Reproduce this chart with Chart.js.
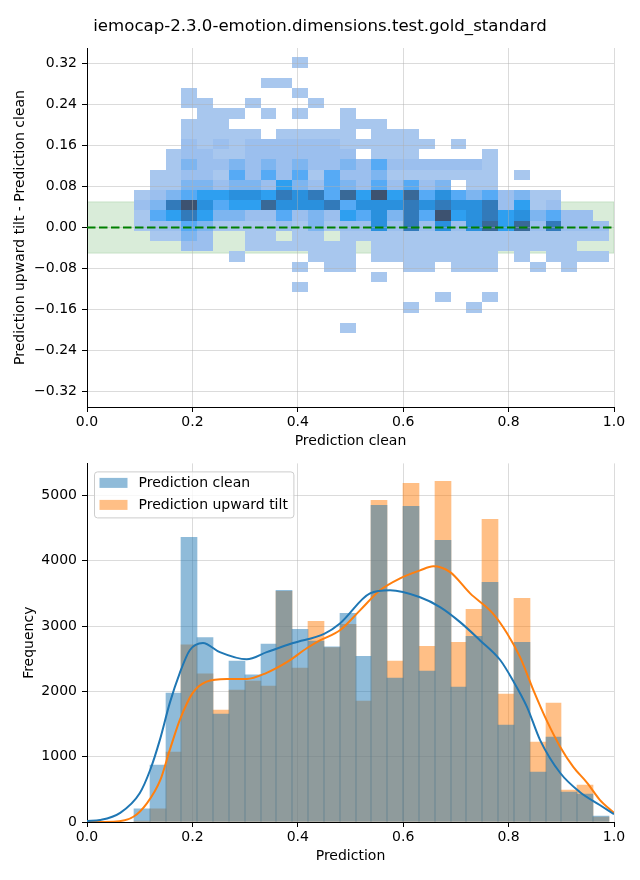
<!DOCTYPE html>
<html>
<head>
<meta charset="utf-8">
<script src="https://cdn.jsdelivr.net/npm/chart.js@4.4.1/dist/chart.umd.min.js"></script>
<style>
	html, body { margin: 0; padding: 0; background: #fff; }
	#pagina { position: relative; width: 640px; height: 880px; }
	canvas { position: absolute; left: 0; }
	#graficaDif { top: 0; }
	#graficaHist { top: 450px; }
</style>
</head>
<body>
<div id="pagina">
	<canvas id="graficaDif" width="640" height="450"></canvas>
	<canvas id="graficaHist" width="640" height="430"></canvas>
</div>
<script>
/* Datos: histograma 2D de diferencias y histogramas de prediccion */

var titulo = 'iemocap-2.3.0-emotion.dimensions.test.gold_standard';

// Bordes de los bins de prediccion (comunes a los dos paneles)
var binEdges = [0.0890, 0.1190, 0.1491, 0.1791, 0.2092, 0.2392, 0.2693, 0.2993, 0.3294, 0.3594,
	0.3895, 0.4195, 0.4496, 0.4796, 0.5097, 0.5397, 0.5698, 0.5998, 0.6299, 0.6599,
	0.6900, 0.7200, 0.7501, 0.7801, 0.8102, 0.8402, 0.8703, 0.9003, 0.9304, 0.9604, 0.9905];

// Bordes de los bins de diferencia (de arriba a abajo)
var diffEdges = [0.3317, 0.3118, 0.2919, 0.2720, 0.2521, 0.2322, 0.2123, 0.1924, 0.1725, 0.1526,
	0.1327, 0.1128, 0.0929, 0.0730, 0.0531, 0.0332, 0.0133, -0.0066, -0.0265, -0.0464,
	-0.0663, -0.0862, -0.1061, -0.1260, -0.1459, -0.1658, -0.1857, -0.2056];

// Conteos del histograma 2D: una fila por bin de diferencia, una columna por bin de prediccion
var cellCounts = [
	[0,0,0,0,0,0,0,0,0,0,15,0,0,0,0,0,0,0,0,0,0,0,0,0,0,0,0,0,0,0],
	[0,0,0,0,0,0,0,0,0,0,0,0,0,0,0,0,0,0,0,0,0,0,0,0,0,0,0,0,0,0],
	[0,0,0,0,0,0,0,0,15,15,0,0,0,0,0,0,0,0,0,0,0,0,0,0,0,0,0,0,0,0],
	[0,0,0,15,0,0,0,0,0,0,15,0,0,0,0,0,0,0,0,0,0,0,0,0,0,0,0,0,0,0],
	[0,0,0,15,15,0,0,15,0,0,0,15,0,0,0,0,0,0,0,0,0,0,0,0,0,0,0,0,0,0],
	[0,0,0,0,15,15,15,0,15,0,15,0,0,15,0,0,0,0,0,0,0,0,0,0,0,0,0,0,0,0],
	[0,0,0,15,15,15,0,0,0,0,0,0,0,15,15,15,0,0,0,0,0,0,0,0,0,0,0,0,0,0],
	[0,0,0,15,15,15,15,15,0,15,15,15,15,15,0,15,15,15,0,0,0,0,0,0,0,0,0,0,0,0],
	[0,0,0,110,15,110,15,110,110,110,110,110,110,15,15,15,15,15,15,0,15,0,0,0,0,0,0,0,0,0],
	[0,0,15,110,110,15,15,110,110,110,110,110,110,110,0,15,15,15,0,0,0,0,15,0,0,0,0,0,0,0],
	[0,0,15,230,110,110,230,110,230,110,230,110,110,230,110,350,110,110,110,110,110,110,15,0,0,0,0,0,0,0],
	[0,15,15,110,110,15,350,110,350,110,350,15,350,110,110,230,15,15,15,15,15,15,15,0,15,0,0,0,0,0],
	[0,15,15,230,230,110,230,230,110,480,230,110,350,230,110,350,110,350,110,230,0,15,15,0,0,0,0,0,0,0],
	[15,110,230,350,480,480,620,620,480,760,620,760,350,900,480,1040,480,900,350,620,350,230,350,110,230,15,15,0,0,0],
	[110,230,760,1040,620,350,480,480,900,620,620,620,760,350,620,620,620,760,620,760,620,620,760,110,480,15,110,0,0,0],
	[15,350,480,760,480,230,230,110,110,350,110,230,110,480,350,620,230,760,350,1040,480,620,760,480,620,230,350,110,110,0],
	[15,110,110,350,230,15,15,15,15,110,15,230,15,110,110,620,110,760,110,620,110,620,900,480,900,110,760,110,110,110],
	[0,15,15,230,110,0,0,15,15,0,15,15,0,15,15,15,15,15,15,15,15,15,15,15,15,15,15,15,15,15],
	[0,0,0,110,110,0,0,15,15,15,15,15,15,15,0,15,15,15,15,15,15,15,15,15,15,15,15,15,0,0],
	[0,0,0,0,0,0,15,0,0,0,0,15,15,15,0,15,15,15,15,15,15,15,15,0,15,0,15,15,15,15],
	[0,0,0,0,0,0,0,0,0,0,15,0,15,15,0,0,0,15,15,0,15,15,15,0,0,15,0,15,0,0],
	[0,0,0,0,0,0,0,0,0,0,0,0,0,0,0,15,0,0,0,0,0,0,0,0,0,0,0,0,0,0],
	[0,0,0,0,0,0,0,0,0,0,15,0,0,0,0,0,0,0,0,0,0,0,0,0,0,0,0,0,0,0],
	[0,0,0,0,0,0,0,0,0,0,0,0,0,0,0,0,0,0,0,15,0,0,15,0,0,0,0,0,0,0],
	[0,0,0,0,0,0,0,0,0,0,0,0,0,0,0,0,0,15,0,0,0,15,0,0,0,0,0,0,0,0],
	[0,0,0,0,0,0,0,0,0,0,0,0,0,0,0,0,0,0,0,0,0,0,0,0,0,0,0,0,0,0],
	[0,0,0,0,0,0,0,0,0,0,0,0,0,15,0,0,0,0,0,0,0,0,0,0,0,0,0,0,0,0]
];

// Histogramas de frecuencia por bin
var cleanCounts = [200, 870, 1975, 4358, 2824, 1651, 2462, 2253, 2722, 3547,
	2951, 2768, 2680, 3196, 2538, 4847, 2202, 4832, 2309, 4312,
	2064, 2844, 3670, 1483, 2752, 765, 1300, 459, 428, 90];
var tiltCounts = [15, 200, 1070, 2711, 2268, 1713, 2018, 2156, 2080, 3532,
	2358, 3073, 2670, 3028, 1850, 4924, 2462, 5184, 2691, 5214,
	2752, 3257, 4633, 1957, 3425, 1223, 1820, 489, 566, 75];

// Curvas KDE
var kdeCleanX = [0, 0.025, 0.063, 0.1, 0.12, 0.138, 0.157, 0.176, 0.195, 0.22, 0.252, 0.303, 0.341, 0.391,
	0.45, 0.48, 0.537, 0.575, 0.632, 0.67, 0.708, 0.746, 0.784, 0.808, 0.835, 0.86, 0.898, 0.935, 0.973, 1.0];
var kdeCleanY = [15, 30, 140, 440, 800, 1250, 1820, 2280, 2630, 2740, 2600, 2490, 2600, 2740,
	2880, 3040, 3500, 3547, 3440, 3290, 3060, 2780, 2480, 2170, 1760, 1250, 750, 460, 260, 120];
var kdeTiltX = [0, 0.05, 0.088, 0.114, 0.139, 0.157, 0.176, 0.2, 0.227, 0.265, 0.303, 0.34, 0.38, 0.417, 0.442,
	0.48, 0.518, 0.556, 0.594, 0.632, 0.657, 0.689, 0.727, 0.77, 0.797, 0.822, 0.847, 0.872, 0.898, 0.923, 0.949, 0.973, 1.0];
var kdeTiltY = [0, 5, 80, 290, 640, 1100, 1560, 1970, 2150, 2190, 2190, 2280, 2450, 2660, 2780,
	2935, 3240, 3547, 3730, 3853, 3914, 3825, 3500, 3195, 2890, 2520, 2020, 1560, 1150, 840, 600, 340, 140];

var xTicks = [0, 0.2, 0.4, 0.6, 0.8, 1.0];
var diffTicks = [-0.32, -0.24, -0.16, -0.08, 0, 0.08, 0.16, 0.24, 0.32];
var freqTicks = [0, 1000, 2000, 3000, 4000, 5000];
var bandaLimite = 0.05;

// Paradas del mapa de color (claro -> azul -> oscuro)
var paradasColor = [
	[0.00, [170, 200, 238]],
	[0.10, [156, 192, 238]],
	[0.22, [125, 181, 240]],
	[0.34, [85, 170, 245]],
	[0.46, [46, 159, 240]],
	[0.60, [42, 144, 220]],
	[0.73, [50, 122, 186]],
	[0.87, [57, 104, 150]],
	[1.00, [61, 82, 112]]
];

Chart.defaults.font.family = '"DejaVu Sans", sans-serif';
Chart.defaults.color = '#000';

var colorRejilla = 'rgba(176,176,176,0.45)';

function colorCelda(t) {
	for (var i = 1; i < paradasColor.length; i++) {
		if (t <= paradasColor[i][0]) {
			var a = paradasColor[i - 1], b = paradasColor[i];
			var f = (t - a[0]) / (b[0] - a[0]);
			var c = [0, 1, 2].map(function (k) { return Math.round(a[1][k] + f * (b[1][k] - a[1][k])); });
			return 'rgb(' + c[0] + ',' + c[1] + ',' + c[2] + ')';
		}
	}
	var u = paradasColor[paradasColor.length - 1][1];
	return 'rgb(' + u[0] + ',' + u[1] + ',' + u[2] + ')';
}

function formatoMenos(v, dec) {
	return (v < 0 ? '\u2212' : '') + Math.abs(v).toFixed(dec);
}

// Banda verde y celdas del histograma 2D, pintadas antes de la rejilla
var pluginCeldas = {
	id: 'celdas',
	beforeDraw: function (chart) {
		var ctx = chart.ctx;
		var xs = chart.scales.x, ys = chart.scales.y, area = chart.chartArea;
		ctx.save();
		ctx.beginPath();
		ctx.rect(area.left, area.top, area.right - area.left, area.bottom - area.top);
		ctx.clip();

		var xb0 = xs.getPixelForValue(0), xb1 = xs.getPixelForValue(1);
		var yb0 = ys.getPixelForValue(bandaLimite), yb1 = ys.getPixelForValue(-bandaLimite);
		ctx.fillStyle = 'rgba(0,128,0,0.15)';
		ctx.fillRect(xb0, yb0, xb1 - xb0, yb1 - yb0);
		ctx.strokeStyle = 'rgba(0,128,0,0.15)';
		ctx.lineWidth = 1;
		ctx.strokeRect(xb0, yb0, xb1 - xb0, yb1 - yb0);

		var maximo = 0;
		cellCounts.forEach(function (fila) { fila.forEach(function (v) { if (v > maximo) maximo = v; }); });

		for (var r = 0; r < cellCounts.length; r++) {
			for (var c = 0; c < cellCounts[r].length; c++) {
				var n = cellCounts[r][c];
				if (n <= 0) continue;
				var x0 = Math.round(xs.getPixelForValue(binEdges[c]));
				var x1 = Math.round(xs.getPixelForValue(binEdges[c + 1]));
				var y0 = Math.round(ys.getPixelForValue(diffEdges[r]));
				var y1 = Math.round(ys.getPixelForValue(diffEdges[r + 1]));
				ctx.fillStyle = colorCelda(n / maximo);
				ctx.fillRect(x0, y0, x1 - x0, y1 - y0);
			}
		}
		ctx.restore();
	}
};

var pluginTitulo = {
	id: 'titulo',
	afterDraw: function (chart) {
		var ctx = chart.ctx;
		ctx.save();
		ctx.font = '16.6px "DejaVu Sans"';
		ctx.fillStyle = '#000';
		ctx.textAlign = 'center';
		ctx.textBaseline = 'middle';
		ctx.fillText(titulo, chart.width / 2, 27);
		ctx.restore();
	}
};

// Ajusta los bordes de cada barra a pixeles enteros para que no queden rendijas
var pluginBordesBarras = {
	id: 'bordesBarras',
	beforeDatasetsDraw: function (chart) {
		chart.data.datasets.forEach(function (d, i) {
			var meta = chart.getDatasetMeta(i);
			if (meta.type !== 'bar') return;
			meta.data.forEach(function (el) {
				var izq = Math.round(el.x - el.width / 2);
				var der = Math.round(el.x + el.width / 2);
				el.x = (izq + der) / 2;
				el.width = der - izq;
			});
		});
	}
};

// Leyenda con marco redondeado dentro del area de la grafica
var pluginLeyenda = {
	id: 'leyenda',
	afterDraw: function (chart) {
		var ctx = chart.ctx, area = chart.chartArea;
		var items = chart.data.datasets.filter(function (d) { return d.label; });
		ctx.save();
		ctx.font = '14px "DejaVu Sans"';
		var anchoTexto = 0;
		items.forEach(function (d) { anchoTexto = Math.max(anchoTexto, ctx.measureText(d.label).width); });
		var x0 = area.left + 7.5, y0 = area.top + 8.5;
		var w = 44 + anchoTexto + 6, h = 46, rad = 3;
		ctx.beginPath();
		ctx.moveTo(x0 + rad, y0);
		ctx.lineTo(x0 + w - rad, y0);
		ctx.quadraticCurveTo(x0 + w, y0, x0 + w, y0 + rad);
		ctx.lineTo(x0 + w, y0 + h - rad);
		ctx.quadraticCurveTo(x0 + w, y0 + h, x0 + w - rad, y0 + h);
		ctx.lineTo(x0 + rad, y0 + h);
		ctx.quadraticCurveTo(x0, y0 + h, x0, y0 + h - rad);
		ctx.lineTo(x0, y0 + rad);
		ctx.quadraticCurveTo(x0, y0, x0 + rad, y0);
		ctx.closePath();
		ctx.fillStyle = 'rgba(255,255,255,0.8)';
		ctx.fill();
		ctx.strokeStyle = '#cccccc';
		ctx.lineWidth = 1;
		ctx.stroke();
		items.forEach(function (d, i) {
			var cy = y0 + 11 + i * 22;
			ctx.fillStyle = d.backgroundColor;
			ctx.fillRect(x0 + 5, cy - 5, 28, 10);
			ctx.fillStyle = '#000';
			ctx.textBaseline = 'middle';
			ctx.textAlign = 'left';
			ctx.fillText(d.label, x0 + 44, cy);
		});
		ctx.restore();
	}
};

function ejeX(texto) {
	return {
		type: 'linear', min: 0, max: 1, offset: false,
		afterFit: function (s) { s.height = 43; },
		afterBuildTicks: function (s) { s.ticks = xTicks.map(function (v) { return { value: v }; }); },
		ticks: { font: { size: 14 }, color: '#000', padding: 2, autoSkip: false, maxRotation: 0,
			callback: function (v) { return v.toFixed(1); } },
		grid: { color: colorRejilla, lineWidth: 1, tickLength: 5, tickColor: '#000', offset: false },
		border: { display: true, color: '#000', width: 1 },
		title: { display: true, text: texto, font: { size: 14 }, color: '#000', padding: { top: 0, bottom: 0 } }
	};
}

var puntosCero = [{ x: 0, y: 0 }, { x: 1, y: 0 }];

new Chart(document.getElementById('graficaDif'), {
	type: 'scatter',
	data: {
		datasets: [{
			data: puntosCero,
			showLine: true,
			borderColor: '#008000',
			borderWidth: 2,
			borderDash: [8.5, 3.5],
			pointRadius: 0
		}]
	},
	options: {
		responsive: false,
		animation: false,
		devicePixelRatio: 1,
		layout: { padding: { top: 48, right: 26, left: 0, bottom: 0 } },
		plugins: { legend: { display: false }, tooltip: { enabled: false } },
		scales: {
			x: ejeX('Prediction clean'),
			y: {
				type: 'linear', min: -0.35, max: 0.35,
				afterFit: function (s) { s.width = 87; },
				afterBuildTicks: function (s) { s.ticks = diffTicks.map(function (v) { return { value: v }; }); },
				ticks: { font: { size: 14 }, color: '#000', padding: 5, autoSkip: false,
					callback: function (v) { return formatoMenos(v, 2); } },
				grid: { color: colorRejilla, lineWidth: 1, tickLength: 5, tickColor: '#000' },
				border: { display: true, color: '#000', width: 1 },
				title: { display: true, text: 'Prediction upward tilt - Prediction clean', font: { size: 14 }, color: '#000',
					padding: { top: 12, bottom: 0 } }
			}
		}
	},
	plugins: [pluginCeldas, pluginTitulo]
});

function centrosBins() {
	var centros = [];
	for (var i = 0; i < binEdges.length - 1; i++) {
		centros.push((binEdges[i] + binEdges[i + 1]) / 2);
	}
	return centros;
}

function puntosBarras(conteos) {
	var centros = centrosBins();
	return conteos.map(function (v, i) { return { x: centros[i], y: v }; });
}

function puntosCurva(xs, ys) {
	return xs.map(function (v, i) { return { x: v, y: ys[i] }; });
}

new Chart(document.getElementById('graficaHist'), {
	type: 'bar',
	data: {
		datasets: [
			{ type: 'bar', label: 'Prediction clean', data: puntosBarras(cleanCounts),
				backgroundColor: 'rgba(31,119,180,0.5)', borderWidth: 0, grouped: false,
				barPercentage: 1, categoryPercentage: 1 },
			{ type: 'bar', label: 'Prediction upward tilt', data: puntosBarras(tiltCounts),
				backgroundColor: 'rgba(255,127,14,0.5)', borderWidth: 0, grouped: false,
				barPercentage: 1, categoryPercentage: 1 },
			{ type: 'line', data: puntosCurva(kdeCleanX, kdeCleanY), borderColor: '#1f77b4', borderWidth: 2,
				pointRadius: 0, fill: false, cubicInterpolationMode: 'monotone', order: -1 },
			{ type: 'line', data: puntosCurva(kdeTiltX, kdeTiltY), borderColor: '#ff7f0e', borderWidth: 2,
				pointRadius: 0, fill: false, cubicInterpolationMode: 'monotone', order: -1 }
		]
	},
	options: {
		responsive: false,
		animation: false,
		devicePixelRatio: 1,
		layout: { padding: { top: 13, right: 26, left: 0, bottom: 15 } },
		plugins: { legend: { display: false }, tooltip: { enabled: false } },
		scales: {
			x: ejeX('Prediction'),
			y: {
				type: 'linear', min: 0, max: 5490,
				afterFit: function (s) { s.width = 87; },
				afterBuildTicks: function (s) { s.ticks = freqTicks.map(function (v) { return { value: v }; }); },
				ticks: { font: { size: 14 }, color: '#000', padding: 5, autoSkip: false,
					callback: function (v) { return String(v); } },
				grid: { color: colorRejilla, lineWidth: 1, tickLength: 5, tickColor: '#000' },
				border: { display: true, color: '#000', width: 1 },
				title: { display: true, text: 'Frequency', font: { size: 14 }, color: '#000',
					padding: { top: 21, bottom: 0 } }
			}
		}
	},
	plugins: [pluginBordesBarras, pluginLeyenda]
});
</script>
</body>
</html>
